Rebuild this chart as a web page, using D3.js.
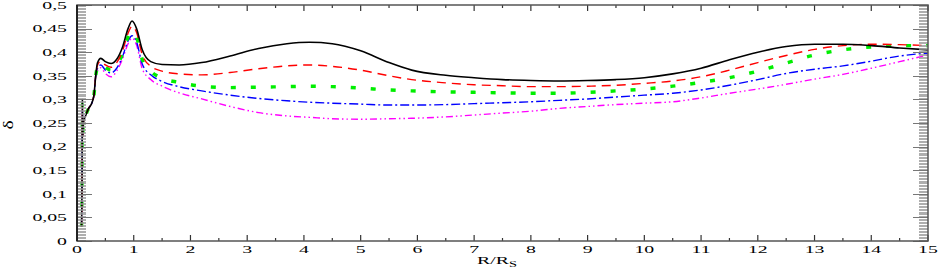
<!DOCTYPE html>
<html>
<head>
<meta charset="utf-8">
<script src="https://cdn.jsdelivr.net/npm/d3@7"></script>
<style>
  body { margin: 0; background: #fff; }
  text { font-family: "Liberation Serif", "DejaVu Serif", serif; fill: #000; }
</style>
</head>
<body>
<div id="chart"></div>
<script>
// Data
var R = [0.08, 0.09, 0.095, 0.1, 0.11, 0.15, 0.2, 0.27, 0.3, 0.33, 0.36, 0.42, 0.5, 0.6, 0.7, 0.8, 0.9, 0.97,
         1.05, 1.15, 1.3, 1.5, 1.8, 2.2, 2.7, 3.2, 3.7, 4.1, 4.5, 5.0, 5.5, 5.9, 6.5, 7.0, 7.5, 8.0, 8.5,
         9.0, 9.5, 10.0, 10.5, 11.0, 11.5, 12.0, 12.5, 13.0, 13.5, 14.0, 14.5, 15.0];

var deltaBlack = [0.03, 0.15, 0.30, 0.22, 0.25, 0.265, 0.28, 0.295, 0.31, 0.35, 0.377, 0.387, 0.380, 0.376, 0.385, 0.410, 0.450, 0.466,
                  0.450, 0.405, 0.380, 0.374, 0.373, 0.378, 0.392, 0.408, 0.418, 0.421, 0.418, 0.403, 0.378, 0.362, 0.351, 0.346, 0.342, 0.340, 0.339,
                  0.340, 0.342, 0.346, 0.354, 0.366, 0.384, 0.400, 0.412, 0.417, 0.417, 0.414, 0.409, 0.405];
var deltaRed   = [0.03, 0.15, 0.29, 0.22, 0.25, 0.265, 0.28, 0.295, 0.31, 0.35, 0.372, 0.381, 0.373, 0.368, 0.378, 0.402, 0.440, 0.455,
                  0.442, 0.395, 0.370, 0.360, 0.354, 0.352, 0.357, 0.365, 0.371, 0.373, 0.370, 0.362, 0.350, 0.342, 0.335, 0.331, 0.329, 0.327, 0.327,
                  0.328, 0.330, 0.334, 0.339, 0.348, 0.362, 0.378, 0.393, 0.406, 0.414, 0.417, 0.416, 0.414];
var deltaGreen = [0.03, 0.15, 0.29, 0.22, 0.25, 0.265, 0.28, 0.295, 0.31, 0.35, 0.368, 0.376, 0.368, 0.362, 0.372, 0.396, 0.432, 0.445,
                  0.432, 0.385, 0.360, 0.345, 0.336, 0.328, 0.325, 0.326, 0.327, 0.328, 0.327, 0.324, 0.320, 0.318, 0.316, 0.315, 0.314, 0.313, 0.313,
                  0.315, 0.318, 0.322, 0.328, 0.336, 0.346, 0.360, 0.377, 0.394, 0.405, 0.411, 0.414, 0.414];
var deltaBlue  = [0.03, 0.15, 0.28, 0.22, 0.25, 0.265, 0.28, 0.295, 0.31, 0.35, 0.365, 0.373, 0.362, 0.356, 0.366, 0.390, 0.424, 0.435,
                  0.422, 0.375, 0.352, 0.338, 0.327, 0.318, 0.309, 0.302, 0.297, 0.294, 0.292, 0.290, 0.288, 0.288, 0.289, 0.291, 0.293, 0.295, 0.298,
                  0.301, 0.305, 0.309, 0.313, 0.320, 0.330, 0.342, 0.355, 0.364, 0.371, 0.381, 0.392, 0.398];
var deltaMagenta = [0.03, 0.15, 0.28, 0.22, 0.25, 0.265, 0.28, 0.295, 0.31, 0.35, 0.360, 0.367, 0.355, 0.348, 0.360, 0.385, 0.418, 0.430,
                  0.415, 0.365, 0.342, 0.328, 0.314, 0.301, 0.285, 0.272, 0.265, 0.262, 0.259, 0.258, 0.259, 0.260, 0.263, 0.267, 0.271, 0.275, 0.281,
                  0.285, 0.289, 0.292, 0.295, 0.303, 0.313, 0.322, 0.332, 0.343, 0.353, 0.366, 0.380, 0.394];

var xTicks = d3.range(0, 16, 1);
var yTicks = d3.range(0, 0.501, 0.05);

// line styles
var styles = [
    { data: deltaMagenta, color: "#ff00ff", width: 1.4, dash: "7,3,1.5,3,1.5,3" },
    { data: deltaBlue,    color: "#0000ff", width: 1.4, dash: "9,3,2,3" },
    { data: deltaGreen,   color: "#00ee00", width: 3.4, dash: "5,15" },
    { data: deltaRed,     color: "#ff0000", width: 1.4, dash: "9,6" },
    { data: deltaBlack,   color: "#000000", width: 1.6, dash: null }
];

var W = 941, H = 268;
var pLeft = 77, pRight = 928, pTop = 5, pBottom = 241;
var sx = 1.8; // text is stretched sideways in the original

var svg = d3.select("#chart").append("svg")
    .attr("width", W)
    .attr("height", H);

var x = d3.scaleLinear().domain([0, 15]).range([pLeft, pRight]);
var y = d3.scaleLinear().domain([0, 0.5]).range([pBottom, pTop]);

svg.append("clipPath").attr("id", "clip")
    .append("rect")
    .attr("x", pLeft).attr("y", pTop)
    .attr("width", pRight - pLeft).attr("height", pBottom - pTop);

// Curves
var line = d3.line()
    .x(function (d, i) { return x(R[i]); })
    .y(function (d) { return y(d); })
    .curve(d3.curveMonotoneX);

styles.forEach(function (s) {
    svg.append("path")
        .attr("clip-path", "url(#clip)")
        .attr("d", line(s.data))
        .attr("fill", "none")
        .attr("stroke", s.color)
        .attr("stroke-width", s.width)
        .attr("stroke-dasharray", s.dash);
});

// Minor y ticks (dense)
var yMinor = d3.range(0, 0.5, 0.05 / 16);
var ticks = svg.append("g");
yMinor.forEach(function (v) {
    var yy = Math.round(y(v)) + 0.5;
    ticks.append("line").attr("x1", pLeft).attr("x2", pLeft + 9)
        .attr("y1", yy).attr("y2", yy)
        .attr("stroke", "#999").attr("stroke-width", 0.8);
    ticks.append("line").attr("x1", pRight - 9).attr("x2", pRight)
        .attr("y1", yy).attr("y2", yy)
        .attr("stroke", "#999").attr("stroke-width", 0.8);
});

// Major y ticks + labels
yTicks.forEach(function (v) {
    var yy = Math.round(y(v)) + 0.5;
    ticks.append("line").attr("x1", pLeft).attr("x2", pLeft + 15)
        .attr("y1", yy).attr("y2", yy).attr("stroke", "#777").attr("stroke-width", 1);
    ticks.append("line").attr("x1", pRight - 15).attr("x2", pRight)
        .attr("y1", yy).attr("y2", yy).attr("stroke", "#777").attr("stroke-width", 1);
    svg.append("text")
        .attr("transform", "translate(67," + y(v) + ") scale(" + sx + ",1)")
        .attr("text-anchor", "end")
        .attr("dy", "0.35em")
        .attr("font-size", 11)
        .text(d3.format(".2~f")(v).replace(".", ","));
});

// x ticks (major and half-step minor), bottom and top
xTicks.forEach(function (v) {
    var xx = x(v);
    ticks.append("line").attr("x1", xx).attr("x2", xx).attr("y1", pBottom).attr("y2", pBottom - 6)
        .attr("stroke", "#333").attr("stroke-width", 1.2);
    ticks.append("line").attr("x1", xx).attr("x2", xx).attr("y1", pTop).attr("y2", pTop + 6)
        .attr("stroke", "#333").attr("stroke-width", 1.2);
    if (v < 15) {
        var xm = x(v + 0.5);
        ticks.append("line").attr("x1", xm).attr("x2", xm).attr("y1", pBottom).attr("y2", pBottom - 3)
            .attr("stroke", "#333").attr("stroke-width", 1.2);
        ticks.append("line").attr("x1", xm).attr("x2", xm).attr("y1", pTop).attr("y2", pTop + 3)
            .attr("stroke", "#333").attr("stroke-width", 1.2);
    }
    svg.append("text")
        .attr("transform", "translate(" + xx + ",253) scale(" + sx + ",1)")
        .attr("text-anchor", "middle")
        .attr("font-size", 11)
        .text(v);
});

// Frame
svg.append("rect")
    .attr("x", pLeft).attr("y", pTop)
    .attr("width", pRight - pLeft).attr("height", pBottom - pTop)
    .attr("fill", "none")
    .attr("stroke", "#555")
    .attr("stroke-width", 1.5);
svg.append("line").attr("x1", pLeft).attr("x2", pLeft).attr("y1", pTop).attr("y2", pBottom)
    .attr("stroke", "#222").attr("stroke-width", 2);

// Axis titles
var xt = svg.append("text")
    .attr("transform", "translate(497,264) scale(" + sx + ",1)")
    .attr("text-anchor", "middle")
    .attr("font-size", 11);
xt.append("tspan").text("R/R");
xt.append("tspan").attr("dy", 3).attr("font-size", 8).text("S");

svg.append("text")
    .attr("transform", "translate(13,125) rotate(-90) scale(1.3,1)")
    .attr("text-anchor", "middle")
    .attr("font-size", 15)
    .text("δ");
</script>
</body>
</html>
